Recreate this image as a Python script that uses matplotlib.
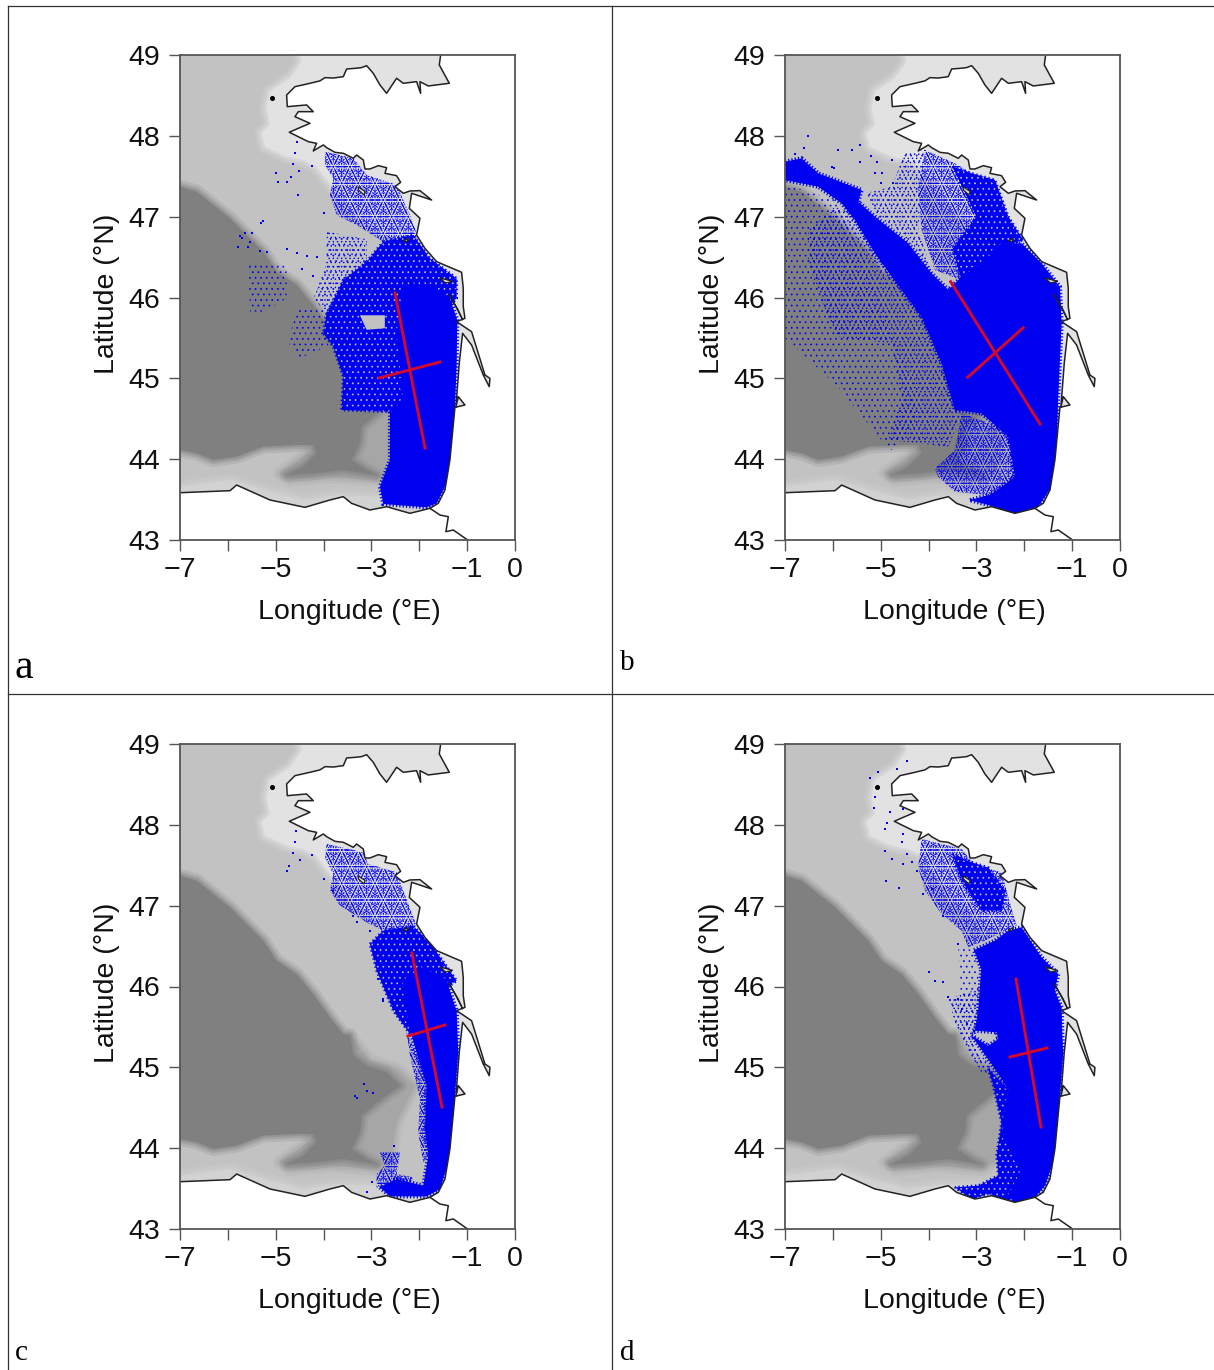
"""Four-panel map of particle positions in the Bay of Biscay (a-d): grey
bathymetry, coastline, blue point clouds and the red principal-axis crosses.
The clouds are drawn as solid or stippled regions plus hand-read stray points.
"""
import matplotlib
matplotlib.use("Agg")
import matplotlib.pyplot as plt
from matplotlib.patches import Polygon

BLUE = "#0000f0"
RED = "#d40a2c"
SEA = "#c2c2c2"
SHELF = "#e2e2e2"
SOUTH_BAND = "#d2d2d2"
MID = "#a6a6a6"
DEEP = "#808080"
FRAME = "#555555"
COAST = "#222222"

plt.rcParams["hatch.linewidth"] = 0.5
plt.rcParams["font.family"] = ["Liberation Sans", "DejaVu Sans"]

# ── Bathymetry (lon, lat) ────────────────────────────────────────────────────
DEEP_ZONE = [(-7, 47.371), (-6.652, 47.31), (-6.304, 47.145), (-5.955, 46.98), (-5.607, 46.773),
             (-5.259, 46.567), (-4.981, 46.32), (-4.563, 46.155), (-4.215, 45.908), (-3.866, 45.619),
             (-3.588, 45.413), (-3.449, 45.392), (-3.379, 45.144), (-3.1, 45.021), (-2.682, 44.938),
             (-2.4, 44.773), (-2.7, 44.649), (-2.961, 44.526), (-3.205, 44.402), (-3.24, 44.196),
             (-3.414, 43.99), (-3.1, 43.866), (-2.892, 43.804), (-3.588, 43.866), (-4.215, 43.825),
             (-4.772, 43.804), (-4.424, 43.907), (-4.145, 44.072), (-4.215, 44.175), (-4.563, 44.175),
             (-5.259, 44.155), (-5.816, 44.031), (-6.304, 43.99), (-6.652, 44.072), (-7, 44.113)]
MID_ZONE = [(-3.449, 45.392), (-3.031, 45.082), (-2.474, 44.979), (-2.091, 44.773), (-2.265, 44.567),
            (-2.474, 44.319), (-2.613, 43.825), (-2.892, 43.742), (-3.866, 43.783), (-4.702, 43.742),
            (-4.911, 43.825), (-4.424, 44.031), (-4.249, 44.134)]
SHELF_ZONE = [(-4.493, 49), (-4.458, 48.918), (-4.702, 48.712), (-5.12, 48.547), (-5.189, 48.34),
              (-5.12, 48.134), (-5.294, 48.031), (-5.224, 47.866), (-4.772, 47.743), (-4.424, 47.701),
              (-4.145, 47.619), (-3.936, 47.454), (-3.309, 47.02), (-2.682, 46.773), (-2.195, 46.65),
              (-1.638, 46.28), (-1.429, 45.99), (-1.36, 45.62), (-1.25, 45.5), (-1.3, 44.9),
              (-1.33, 44.3), (-0.4, 44.3), (-0.4, 49)]
SOUTH_ZONE = [(-7, 43.66), (-5.955, 43.742), (-5.12, 43.598), (-4.424, 43.495), (-3.727, 43.557),
              (-2.892, 43.536), (-2.334, 43.412), (-1.777, 43.454), (-1.777, 43.2), (-7, 43.2)]

# ── Coastline (lon, lat) ─────────────────────────────────────────────────────
COASTLINE = [(-1.554, 49), (-1.582, 48.877), (-1.373, 48.65), (-1.812, 48.617), (-1.986, 48.67),
             (-1.972, 48.526), (-2.056, 48.67), (-2.334, 48.65), (-2.474, 48.712), (-2.683, 48.526),
             (-2.822, 48.629), (-2.961, 48.773), (-3.1, 48.868), (-3.205, 48.844), (-3.344, 48.835),
             (-3.518, 48.827), (-3.588, 48.732), (-3.797, 48.715), (-3.971, 48.72), (-4.075, 48.68),
             (-4.284, 48.65), (-4.598, 48.608), (-4.772, 48.505), (-4.758, 48.361),
             (-4.354, 48.382), (-4.215, 48.299), (-4.528, 48.299), (-4.598, 48.237), (-4.284, 48.155),
             (-4.528, 48.093), (-4.716, 48.044), (-4.319, 47.928), (-4.145, 47.907), (-4.215, 47.813),
             (-4.006, 47.887), (-3.936, 47.854), (-3.762, 47.796), (-3.588, 47.784), (-3.379, 47.722),
             (-3.309, 47.763), (-3.17, 47.701), (-3.135, 47.59), (-3.031, 47.59), (-2.857, 47.631),
             (-2.683, 47.606), (-2.717, 47.536), (-2.474, 47.507), (-2.39, 47.425), (-2.508, 47.371),
             (-2.334, 47.289), (-2.195, 47.318), (-1.986, 47.322), (-1.742, 47.206),
             (-2.16, 47.289), (-2.209, 47.103), (-1.986, 46.98), (-2.056, 46.773), (-1.882, 46.608),
             (-1.638, 46.444), (-1.116, 46.312), (-1.081, 46.114), (-1.081, 45.887), (-1.046, 45.742),
             (-1.22, 45.701), (-0.907, 45.577), (-0.628, 45.041), (-0.524, 45.0), (-0.538, 44.897),
             (-0.663, 45.041), (-0.907, 45.412), (-1.095, 45.557), (-1.165, 45.185), (-1.234, 44.649),
             (-1.185, 44.773), (-1.046, 44.67), (-1.255, 44.641), (-1.36, 43.99), (-1.464, 43.618),
             (-1.603, 43.454), (-1.777, 43.392), (-2.195, 43.33), (-2.682, 43.412), (-3.031, 43.371),
             (-3.414, 43.453), (-3.588, 43.536), (-3.866, 43.495), (-4.389, 43.404), (-5.12, 43.495),
             (-5.816, 43.68), (-5.955, 43.61), (-7, 43.585)]
BORDER = [(-1.777, 43.392), (-1.568, 43.309), (-1.394, 43.288), (-1.443, 43.103), (-1.29, 43.124), (-0.99, 43.0)]
ISLANDS = [[(-3.28, 47.37), (-3.13, 47.31), (-3.16, 47.27), (-3.27, 47.33)],
           [(-2.34, 46.70), (-2.22, 46.73), (-2.26, 46.69)],
           [(-1.57, 46.24), (-1.3, 46.2), (-1.45, 46.18)],
           [(-1.38, 46.04), (-1.19, 45.85), (-1.09, 45.72), (-1.25, 45.9)]]
OUESSANT = [(-5.085, 48.472)]

# ── Panel a ──────────────────────────────────────────────────────────────────
A_SOLID = [(-2.334, 46.155), (-1.777, 46.155), (-1.36, 45.99), (-1.206, 45.72), (-1.22, 45.144),
           (-1.255, 44.649), (-1.325, 44.113), (-1.429, 43.701), (-1.638, 43.454), (-1.847, 43.404),
           (-2.752, 43.445), (-2.822, 43.66), (-2.613, 43.99), (-2.613, 44.567), (-2.334, 44.732),
           (-2.404, 45.144), (-2.474, 45.557)]
A_DENSE = [(-3.1, 46.443), (-2.752, 46.691), (-2.126, 46.773), (-1.777, 46.485), (-1.22, 46.237),
           (-1.22, 45.99), (-1.5, 45.8), (-1.5, 44.6), (-2.613, 44.588), (-3.623, 44.608), (-3.588, 45.021),
           (-3.797, 45.392), (-4.006, 45.557), (-3.936, 45.804), (-3.588, 46.216)]
A_MED = [(-3.971, 47.804), (-3.379, 47.722), (-3.1, 47.516), (-2.474, 47.392), (-2.195, 47.021),
         (-2.021, 46.732), (-2.752, 46.691), (-3.309, 46.897), (-3.727, 47.021), (-3.866, 47.268),
         (-3.797, 47.475), (-3.971, 47.64)]
A_SPARSE = [(-3.936, 46.815), (-3.1, 46.72), (-3.1, 46.3), (-3.9, 45.75), (-4.2, 46.0), (-3.95, 46.4)]
A_WEST_BLOCK = [(-5.572, 46.402), (-4.772, 46.402), (-4.772, 45.99), (-5.259, 45.825), (-5.538, 45.825)]
A_SOUTH_BLOCK = [(-4.55, 45.85), (-4.0, 45.85), (-3.9, 45.4), (-4.5, 45.25), (-4.75, 45.45)]
A_GAP = [(-3.24, 45.78), (-2.72, 45.78), (-2.72, 45.62), (-3.1, 45.6)]
A_POINTS = [(-4.563, 47.928), (-4.598, 47.784), (-4.646, 47.652), (-4.995, 47.545), (-4.946, 47.425),
            (-4.758, 47.425), (-4.688, 47.495), (-4.507, 47.565), (-4.249, 47.627), (-4.542, 47.268),
            (-3.985, 47.05), (-5.315, 46.926), (-5.259, 46.947), (-5.747, 46.765), (-5.642, 46.802),
            (-5.503, 46.794), (-5.712, 46.732), (-5.781, 46.629), (-5.572, 46.629), (-5.538, 46.691),
            (-5.189, 46.567), (-5.329, 46.575), (-4.758, 46.6), (-4.549, 46.547), (-4.354, 46.518),
            (-4.145, 46.505), (-4.458, 46.353), (-4.215, 46.27)]
A_MAJOR = [(-2.508, 46.056), (-1.881, 44.138)]
A_MINOR = [(-2.842, 45.004), (-1.568, 45.202)]

# ── Panel b ──────────────────────────────────────────────────────────────────
B_SOLID = [(-7, 47.68), (-6.652, 47.721), (-6.304, 47.536), (-5.398, 47.33), (-5.468, 47.185), (-5.12, 47.0),
           (-4.424, 46.67), (-3.936, 46.299), (-3.588, 46.093), (-3.309, 46.258), (-2.891, 46.422),
           (-2.474, 46.67), (-2.056, 46.67), (-1.638, 46.423), (-1.255, 46.134), (-1.22, 45.68),
           (-1.29, 44.773), (-1.325, 44.155), (-1.429, 43.66), (-1.708, 43.412), (-2.265, 43.309),
           (-2.752, 43.536), (-2.195, 43.783), (-2.334, 44.278), (-2.891, 44.567), (-3.449, 44.608),
           (-3.727, 45.185), (-4.145, 45.763), (-4.563, 46.093), (-5.12, 46.546), (-5.538, 46.959),
           (-5.816, 47.165), (-6.304, 47.371), (-7, 47.453)]
B_BLOB = [(-3.135, 43.494), (-2.752, 43.556), (-2.265, 43.33), (-2.752, 43.433)]
B_DENSE = [(-3.5, 47.62), (-3.1, 47.536), (-2.613, 47.453), (-2.334, 47.0), (-2.021, 46.711), (-2.474, 46.629),
           (-3.309, 46.216), (-3.5, 46.6), (-3.0, 47.0)]
B_MED = [(-4.075, 47.825), (-3.449, 47.66), (-3.1, 47.536), (-2.613, 47.453), (-2.334, 47.0), (-2.021, 46.711),
         (-2.474, 46.629), (-3.309, 46.216), (-3.866, 46.34), (-4.145, 46.835), (-4.215, 47.33)]
B_SPARSE_N = [(-4.493, 47.783), (-4.075, 47.825), (-4.215, 46.835), (-3.936, 46.34), (-4.424, 46.711),
              (-5.12, 47.041), (-5.329, 47.288), (-4.771, 47.371)]
B_MED_W = [(-5.607, 47.041), (-4.424, 46.422), (-3.588, 45.185), (-3.309, 44.525), (-3.588, 44.155),
           (-4.841, 44.237), (-4.563, 44.773), (-4.772, 45.433), (-5.955, 45.515), (-6.513, 46.422),
           (-6.513, 46.835), (-5.955, 47.124)]
B_THIN_W = [(-7, 47.4), (-5.9, 47.2), (-5.0, 46.0), (-4.2, 44.5), (-4.8, 44.1), (-5.9, 44.9), (-7, 45.5)]
B_MED_S = [(-3.866, 43.886), (-3.449, 44.113), (-3.309, 44.567), (-2.334, 44.361), (-2.126, 43.783),
           (-2.195, 43.371), (-2.752, 43.556), (-3.449, 43.598), (-3.797, 43.783)]
B_POINTS = [(-6.513, 47.998), (-5.886, 47.825), (-5.607, 47.825), (-5.433, 47.886), (-6.025, 47.618),
            (-5.969, 47.606), (-5.433, 47.68), (-5.085, 47.68), (-5.12, 47.536), (-4.98, 47.536),
            (-4.737, 47.412), (-4.772, 47.701), (-6.6, 47.85), (-6.8, 47.78), (-5.2, 47.75), (-5.0, 47.42)]
B_MAJOR = [(-3.538, 46.195), (-1.672, 44.435)]
B_MINOR = [(-3.183, 45.013), (-2.021, 45.626)]

# ── Panel c ──────────────────────────────────────────────────────────────────
C_SOLID = [(-2.334, 46.072), (-1.916, 46.237), (-1.429, 46.072), (-1.22, 45.701), (-1.185, 45.185),
           (-1.255, 44.649), (-1.29, 44.196), (-1.394, 43.825), (-1.568, 43.495), (-1.847, 43.404),
           (-2.613, 43.404), (-2.822, 43.515), (-2.474, 43.618), (-1.916, 43.536), (-1.812, 43.907),
           (-1.882, 44.237), (-1.847, 44.773), (-2.021, 45.103), (-2.195, 45.474), (-2.334, 45.928)]
C_DENSE = [(-3.031, 46.526), (-2.752, 46.691), (-2.126, 46.753), (-1.708, 46.485), (-1.22, 46.072),
           (-1.777, 45.825), (-2.195, 45.413), (-2.543, 45.701), (-2.891, 46.196)]
C_MED = [(-3.936, 47.763), (-3.17, 47.66), (-3.066, 47.516), (-2.474, 47.413), (-2.23, 47.021), (-2.056, 46.753),
         (-2.752, 46.691), (-3.1, 46.794), (-3.657, 47.0), (-3.866, 47.186), (-3.797, 47.392), (-3.971, 47.598)]
C_FRINGE = [(-2.265, 45.433), (-2.195, 45.144), (-1.986, 44.608), (-2.021, 44.196), (-1.916, 43.825),
            (-1.812, 43.907), (-1.847, 44.773), (-2.021, 45.103)]
C_SOUTH = [(-2.822, 43.948), (-2.404, 43.948), (-2.474, 43.68), (-2.126, 43.639), (-2.195, 43.536),
           (-2.892, 43.515), (-2.892, 43.68), (-2.717, 43.783)]
C_POINTS = [(-4.577, 47.928), (-4.598, 47.784), (-4.646, 47.652), (-4.493, 47.565), (-4.758, 47.425),
            (-4.716, 47.487), (-4.249, 47.627), (-3.985, 47.33), (-3.797, 47.178), (-3.379, 46.877),
            (-3.309, 46.794), (-3.031, 46.691), (-2.857, 46.093), (-2.752, 45.825), (-2.752, 45.845),
            (-2.543, 45.742), (-3.156, 44.794), (-3.1, 44.711), (-2.961, 44.682), (-3.344, 44.649),
            (-3.309, 44.616), (-3.1, 43.454), (-2.996, 43.577), (-2.529, 44.031)]
C_MAJOR = [(-2.153, 46.414), (-1.526, 44.509)]
C_MINOR = [(-2.236, 45.387), (-1.463, 45.524)]

# ── Panel d ──────────────────────────────────────────────────────────────────
D_SOLID = [(-3.05, 46.45), (-2.613, 46.567), (-2.334, 46.691), (-2.056, 46.732), (-1.638, 46.361),
           (-1.29, 46.155), (-1.36, 45.949), (-1.22, 45.742), (-1.206, 45.413), (-1.185, 45.185),
           (-1.255, 44.649), (-1.29, 44.196), (-1.394, 43.825), (-1.568, 43.536), (-1.777, 43.392),
           (-2.126, 43.33), (-2.334, 43.412), (-2.056, 43.742), (-2.474, 44.155), (-2.334, 44.732),
           (-2.613, 44.979), (-3.1, 45.392), (-2.752, 45.268), (-2.543, 45.35), (-2.578, 45.433),
           (-3.031, 45.454), (-2.961, 45.722), (-2.9, 46.217)]
D_DENSE = [(-3.5, 47.64), (-3.17, 47.55), (-2.75, 47.47), (-2.4, 47.18), (-2.47, 46.94), (-2.89, 46.94), (-3.31, 47.31)]
D_MED = [(-4.145, 47.825), (-3.309, 47.701), (-3.031, 47.495), (-2.474, 47.413), (-2.334, 47.103), (-2.16, 46.753),
         (-2.822, 46.567), (-3.17, 46.485), (-3.309, 46.691), (-3.727, 46.897), (-4.075, 47.186), (-4.215, 47.475)]
D_FRINGE = [(-2.752, 44.979), (-2.334, 44.732), (-2.056, 43.742), (-2.195, 43.33), (-2.752, 43.433), (-3.1, 43.371),
            (-3.449, 43.515), (-2.961, 43.536), (-2.543, 43.66), (-2.578, 43.907), (-2.474, 44.319), (-2.648, 44.773)]
D_STRIP = [(-3.588, 45.845), (-2.961, 45.969), (-2.891, 45.515), (-3.1, 45.309), (-2.613, 44.938), (-2.891, 44.938),
           (-3.24, 45.268), (-3.449, 45.557)]
D_WEST = [(-3.379, 46.485), (-3.05, 46.45), (-2.891, 45.825), (-2.891, 45.495), (-3.309, 45.66)]
D_POINTS = [(-5.224, 48.575), (-5.05, 48.65), (-4.667, 48.691), (-4.458, 48.786), (-5.12, 48.34), (-5.134, 48.209),
            (-4.806, 48.155), (-4.528, 48.196), (-4.876, 48.019), (-4.911, 47.949), (-4.528, 47.887), (-4.911, 47.672),
            (-4.563, 47.784), (-4.772, 47.578), (-4.528, 47.516), (-4.458, 47.64), (-4.354, 47.536), (-4.249, 47.433),
            (-4.89, 47.31), (-4.618, 47.215), (-4.11, 47.145), (-3.936, 47.206), (-3.692, 46.877), (-3.379, 46.526),
            (-3.992, 46.184), (-3.866, 46.072), (-3.692, 46.052), (-3.588, 45.866), (-3.379, 45.846), (-3.309, 45.722),
            (-3.205, 45.536)]
D_MAJOR = [(-2.173, 46.093), (-1.651, 44.262)]
D_MINOR = [(-2.299, 45.128), (-1.526, 45.239)]

X_TICKS = [-7, -6, -5, -4, -3, -2, -1, 0]
X_TICK_LABELS = ["\u22127", "", "\u22125", "", "\u22123", "", "\u22121", "0"]
Y_TICKS = [43, 44, 45, 46, 47, 48, 49]

PANELS = [
    dict(name="a", left=180, top=55, label_xy=(15, 668), label_size=30,
         regions=[("thin", A_WEST_BLOCK), ("thin", A_SOUTH_BLOCK), ("sparse", A_SPARSE), ("med", A_MED),
                  ("dense", A_DENSE), ("solid", A_SOLID)],
         gap=A_GAP, points=A_POINTS, major=A_MAJOR, minor=A_MINOR),
    dict(name="b", left=785, top=55, label_xy=(620, 663), label_size=21,
         regions=[("thin", B_THIN_W), ("sparse", B_MED_W), ("sparse", B_SPARSE_N), ("med", B_MED), ("dense", B_DENSE),
                  ("med", B_MED_S), ("solid", B_SOLID), ("solid", B_BLOB)],
         gap=None, points=B_POINTS, major=B_MAJOR, minor=B_MINOR),
    dict(name="c", left=180, top=744, label_xy=(15, 1353), label_size=21,
         regions=[("med", C_MED), ("dense", C_DENSE), ("med", C_FRINGE), ("med", C_SOUTH), ("solid", C_SOLID)],
         gap=None, points=C_POINTS, major=C_MAJOR, minor=C_MINOR),
    dict(name="d", left=785, top=744, label_xy=(620, 1353), label_size=21,
         regions=[("thin", D_WEST), ("sparse", D_STRIP), ("med", D_MED), ("dense", D_DENSE), ("dense", D_FRINGE),
                  ("solid", D_SOLID)],
         gap=None, points=D_POINTS, major=D_MAJOR, minor=D_MINOR),
]

W, H = 1214, 1370
fig = plt.figure(figsize=(W / 100, H / 100), dpi=100, facecolor="white")

# Table rules around the four cells
for x in (8, 612):
    fig.add_artist(plt.Line2D([x / W, x / W], [0, 1 - 6 / H], color="#333333", lw=0.9))
for y in (6, 694):
    fig.add_artist(plt.Line2D([8 / W, 1], [1 - y / H, 1 - y / H], color="#333333", lw=0.9))


def soft_poly(ax, pts, color, z):
    """Polygon whose edge is softened by a few translucent strokes."""
    for lw, a in ((10, 0.2), (6, 0.3), (3, 0.4)):
        ax.add_patch(Polygon(pts, closed=True, fc="none", ec=color, lw=lw, alpha=a, zorder=z, joinstyle="round"))
    ax.add_patch(Polygon(pts, closed=True, fc=color, ec="none", zorder=z))


def stipple(ax, pts, hatches):
    """Overlay several dot screens; their beat breaks up the regular grid."""
    for h in hatches:
        ax.add_patch(Polygon(pts, closed=True, fill=False, ec=BLUE, lw=0, hatch=h, zorder=3.5))


def blue_region(ax, level, pts):
    """Blue cloud region, z just under the land so nothing spills over the coast."""
    if level == "solid":
        ax.add_patch(Polygon(pts, closed=True, fc=BLUE, ec="none", zorder=3.5))
        ax.add_patch(Polygon(pts, closed=True, fill=False, ec=BLUE, lw=3, ls=(0, (0.3, 0.5)), zorder=3.5))
    elif level == "dense":
        # blue ground with grey specks showing through
        ax.add_patch(Polygon(pts, closed=True, fc=BLUE, ec=SEA, lw=0, hatch="...", zorder=3.5))
        ax.add_patch(Polygon(pts, closed=True, fill=False, ec=BLUE, lw=2, ls=(0, (0.5, 1.0)), zorder=3.5))
    elif level == "med":
        stipple(ax, pts, ["...", "....", ".....", "......."])
    elif level == "sparse":
        stipple(ax, pts, ["...", "...."])
    else:
        stipple(ax, pts, ["..."])


for p in PANELS:
    ax = fig.add_axes([p["left"] / W, 1 - (p["top"] + 485) / H, 335 / W, 485 / H])
    ax.set_xlim(-7, 0)
    ax.set_ylim(43, 49)
    ax.set_facecolor(SEA)

    soft_poly(ax, SHELF_ZONE, SHELF, 1)
    soft_poly(ax, SOUTH_ZONE, SOUTH_BAND, 1)
    soft_poly(ax, MID_ZONE, MID, 2)
    soft_poly(ax, DEEP_ZONE, DEEP, 3)

    # Land is white down to the frame
    land = COASTLINE + [(-7, 43), (0, 43), (0, 49)]
    ax.add_patch(Polygon(land, closed=True, fc="white", ec="none", zorder=4))

    for level, pts in p["regions"]:
        blue_region(ax, level, pts)
    if p["gap"] is not None:
        ax.add_patch(Polygon(p["gap"], closed=True, fc=SEA, ec="none", zorder=3.5))
    ax.plot([q[0] for q in p["points"]], [q[1] for q in p["points"]], ls="none", marker="s", ms=1.6,
            mew=0, color=BLUE, zorder=5)

    ax.plot([q[0] for q in COASTLINE], [q[1] for q in COASTLINE], color=COAST, lw=1.1, zorder=6)
    ax.plot([q[0] for q in BORDER], [q[1] for q in BORDER], color=COAST, lw=1.1, zorder=6)
    for island in ISLANDS:
        ax.add_patch(Polygon(island, closed=True, fc=SHELF, ec=COAST, lw=0.9, zorder=6))
    ax.plot([q[0] for q in OUESSANT], [q[1] for q in OUESSANT], ls="none", marker="o", ms=2.6, color="black", zorder=6)

    for seg in (p["major"], p["minor"]):
        ax.plot([q[0] for q in seg], [q[1] for q in seg], color=RED, lw=2.1, zorder=7)

    ax.set_xticks(X_TICKS)
    ax.set_xticklabels(X_TICK_LABELS, fontsize=20.5, color="#111111")
    ax.set_yticks(Y_TICKS)
    ax.set_yticklabels([str(t) for t in Y_TICKS], fontsize=20.5, color="#111111")
    ax.tick_params(length=8, width=1.0, color=FRAME)
    ax.tick_params(axis="x", pad=4)
    ax.tick_params(axis="y", pad=6)
    ax.set_xlabel("Longitude (\u00b0E)", fontsize=20.5, labelpad=12, x=0.507, color="#111111")
    ax.set_ylabel("Latitude (\u00b0N)", fontsize=20.5, labelpad=6, y=0.507, color="#111111")
    for side in ax.spines.values():
        side.set_color(FRAME)
        side.set_linewidth(1.3)
        side.set_zorder(8)

    fig.text(p["label_xy"][0] / W, 1 - p["label_xy"][1] / H, p["name"], family="Liberation Serif",
             fontsize=p["label_size"], ha="left", va="center", color="black")

fig.savefig("out.png", dpi=100, facecolor="white")
